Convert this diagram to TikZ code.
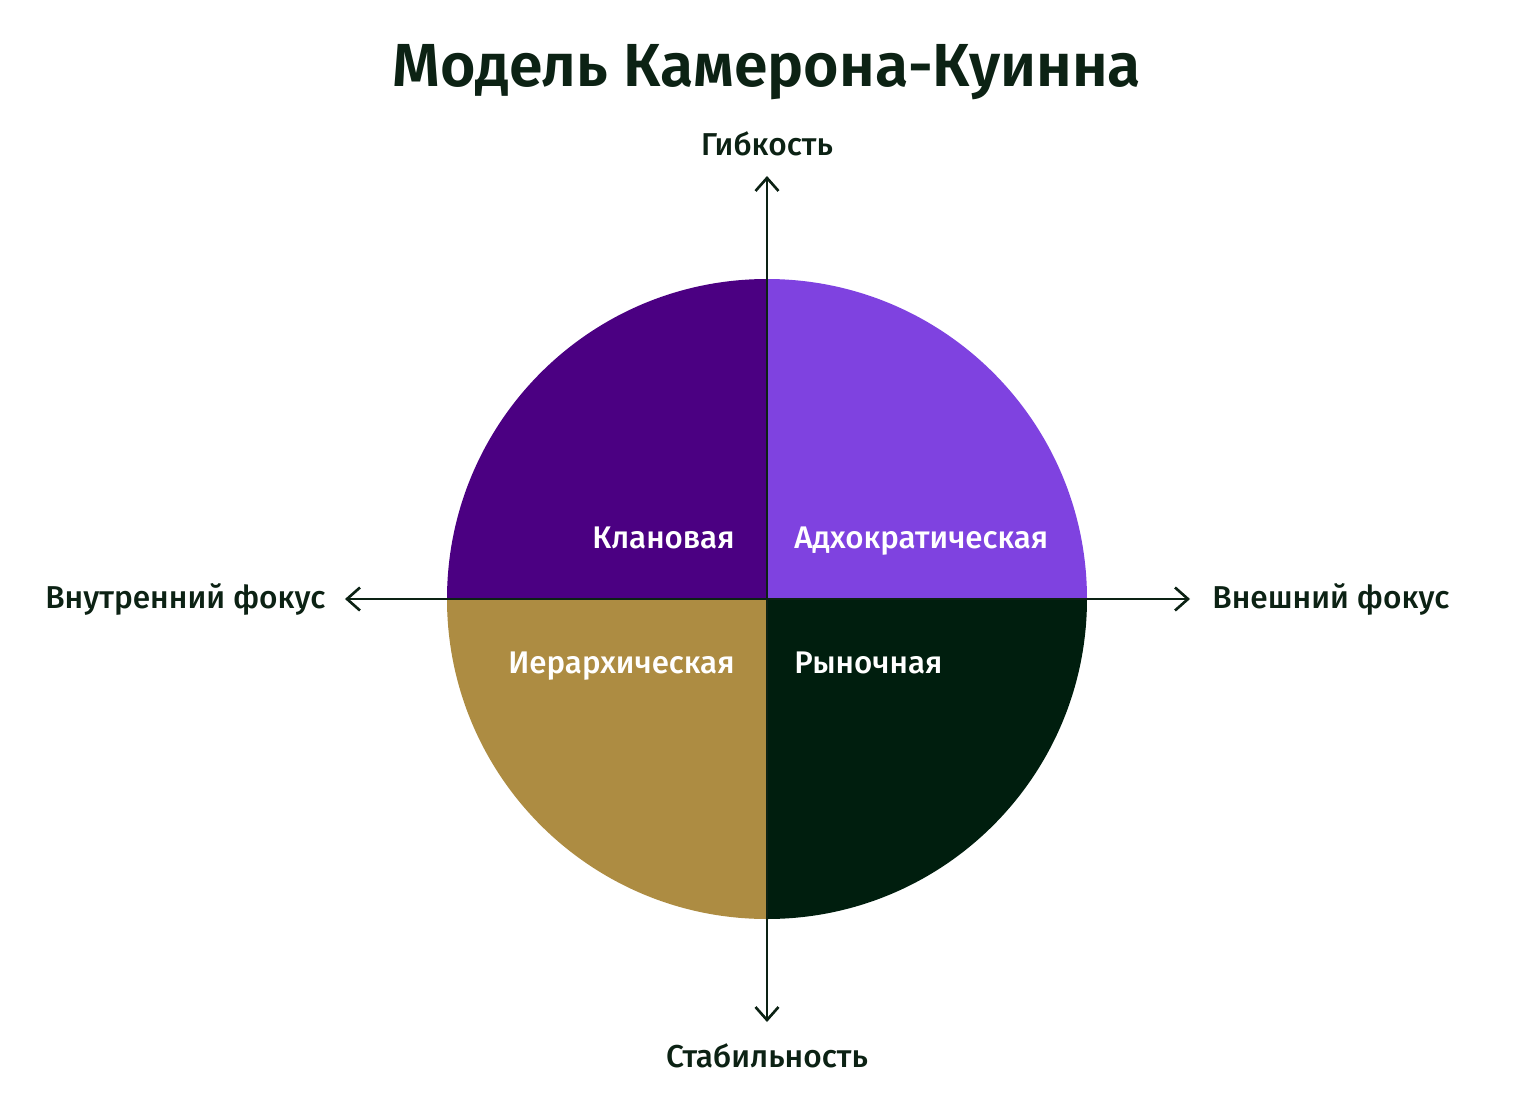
\documentclass[tikz,border=0pt]{standalone}
\usepackage{fontspec}
\setmainfont{Fira Sans}[UprightFont=* Medium, BoldFont=* SemiBold]
\usepackage{tikz}
\usetikzlibrary{positioning}
\usetikzlibrary{arrows.meta}

\definecolor{inkgreen}{HTML}{0C2214}
\definecolor{clanpurple}{HTML}{4B0082}
\definecolor{adhopurple}{HTML}{7F42E0}
\definecolor{hiergold}{HTML}{AD8C42}
\definecolor{marketgreen}{HTML}{001E0E}

\tikzset{
  axis/.style={draw=inkgreen, line width=0.75pt, -{Straight Barb[length=1.3mm, width=2.3mm, line width=0.75pt]}},
  axislabel/.style={text=inkgreen, font=\fontsize{9}{10}\selectfont},
  quadlabel/.style={text=white, font=\fontsize{8.9}{10}\selectfont}
}

\begin{document}
\begin{tikzpicture}
    \useasboundingbox (-7.67,-5.15) rectangle (7.69,5.99);

    % quarters of the circle
    \fill[clanpurple] (0,0) -- (0,3.2) arc (90:180:3.2) -- cycle;
    \fill[adhopurple] (0,0) -- (3.2,0) arc (0:90:3.2) -- cycle;
    \fill[hiergold] (0,0) -- (-3.2,0) arc (180:270:3.2) -- cycle;
    \fill[marketgreen] (0,0) -- (0,-3.2) arc (270:360:3.2) -- cycle;

    \coordinate(O) at (0,0);
    \coordinate(Up) at (0,4.23);
    \coordinate(Down) at (0,-4.23);
    \coordinate(Left) at (-4.22,0);
    \coordinate(Right) at (4.23,0);

    \node(Title) [text=inkgreen, font=\fontsize{17.3}{20}\selectfont\bfseries] at (0,5.27) {Модель Камерона-Куинна};

    \node(Flex) [axislabel, above=0.08cm of Up] {Гибкость};
    \node(Stab) [axislabel, below=0.09cm of Down] {Стабильность};
    \node(Inner) [axislabel, left=0.07cm of Left] {Внутренний фокус};
    \node(Outer) [axislabel, right=0.1cm of Right] {Внешний фокус};

    \node(Clan) [quadlabel, anchor=base east] at (-0.2,0.51) {Клановая};
    \node(Adho) [quadlabel, anchor=base west] at (0.15,0.51) {Адхократическая};
    \node(Hier) [quadlabel, anchor=base east] at (-0.2,-0.74) {Иерархическая};
    \node(Market) [quadlabel, anchor=base west] at (0.15,-0.74) {Рыночная};

    \draw[axis](O) -- (Up);
    \draw[axis](O) -- (Down);
    \draw[axis](O) -- (Left);
    \draw[axis](O) -- (Right);
\end{tikzpicture}
\end{document}
